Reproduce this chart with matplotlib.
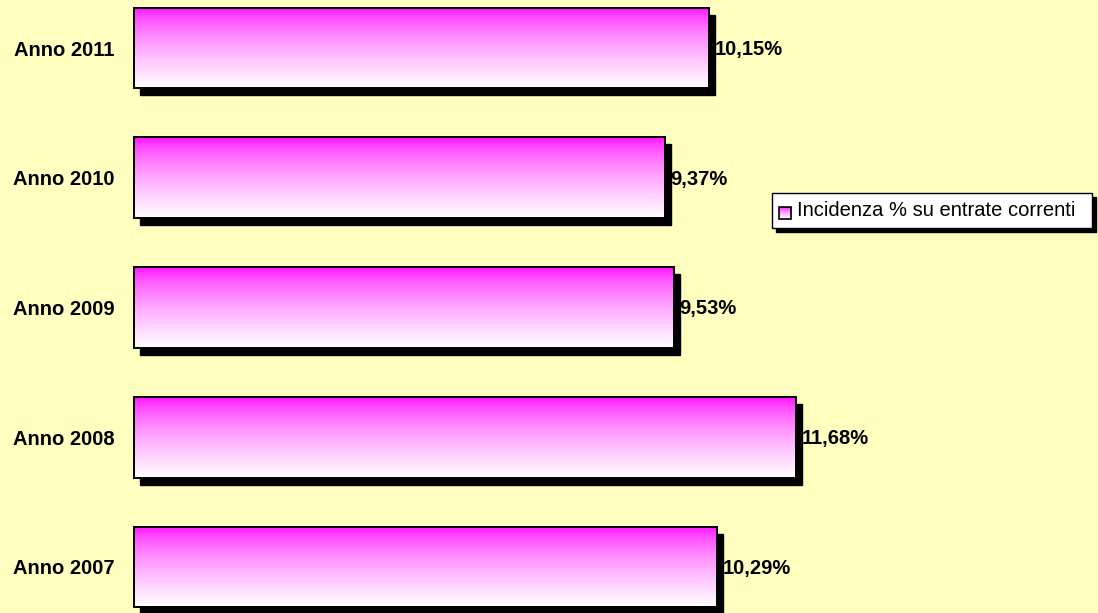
import numpy as np
import matplotlib
matplotlib.use("Agg")
import matplotlib.pyplot as plt
from matplotlib.patches import Rectangle
from matplotlib.transforms import ScaledTranslation

# data (bottom to top as drawn)
years = ['Anno 2007', 'Anno 2008', 'Anno 2009', 'Anno 2010', 'Anno 2011']
incidenza = [10.29, 11.68, 9.53, 9.37, 10.15]
value_labels = ['10,29%', '11,68%', '9,53%', '9,37%', '10,15%']
legend_label = 'Incidenza % su entrate correnti'

bg = '#FFFFC0'
plt.rcParams['font.family'] = ['Liberation Sans', 'DejaVu Sans']

fig = plt.figure(figsize=(10.98, 6.13), dpi=100, facecolor=bg)
W, H = 1098, 613
ax = fig.add_axes([134 / W, 0, 850 / W, 1])
ax.set_facecolor(bg)

# vertical gradient magenta -> white
n = 256
t = np.linspace(0, 1, n) ** 0.6
grad = np.zeros((n, 1, 3))
grad[:, 0, 0] = 1.0
grad[:, 0, 1] = t
grad[:, 0, 2] = 1.0

bar_h = 0.623
shadow = ax.transData + ScaledTranslation(6 / 100, -7 / 100, fig.dpi_scale_trans)
for i, v in enumerate(incidenza):
    y0 = i - bar_h / 2
    ax.add_patch(Rectangle((0, y0), v, bar_h, facecolor='black',
                           edgecolor='black', transform=shadow, zorder=1))
    ax.imshow(grad, extent=[0, v, y0, y0 + bar_h], aspect='auto',
              origin='upper', zorder=2, interpolation='bilinear')
    ax.add_patch(Rectangle((0, y0), v, bar_h, facecolor='none', clip_on=False,
                           edgecolor='black', linewidth=1.4, zorder=3))
    ax.annotate(value_labels[i], xy=(v, i), xytext=(4, -1),
                textcoords='offset points', va='center', ha='left',
                fontsize=14.5, fontweight='bold', zorder=4)

ax.set_xlim(0, 15)
ax.set_ylim(-(613 - 567) / 129.75, 4 + 48 / 129.75)
ax.set_yticks(range(len(years)))
ax.set_yticklabels(years, fontsize=14.5, fontweight='bold')
ax.tick_params(axis='y', length=0, pad=14)
ax.set_xticks([])
for s in ax.spines.values():
    s.set_visible(False)

# legend box drawn in figure pixels
def fx(px):
    return px / W

def fy(py):
    return 1 - py / H

lx0, ly0, lx1, ly1 = 772, 193, 1092, 228
fig.add_artist(Rectangle((fx(lx0 + 4), fy(ly1 + 4)), fx(lx1 - lx0), (ly1 - ly0) / H,
                         transform=fig.transFigure, facecolor='black',
                         edgecolor='black', zorder=5))
fig.add_artist(Rectangle((fx(lx0), fy(ly1)), fx(lx1 - lx0), (ly1 - ly0) / H,
                         transform=fig.transFigure, facecolor='white', edgecolor='black',
                         linewidth=1, zorder=6))
leg_ax = fig.add_axes([fx(779), fy(219), fx(12), 12 / H], zorder=7)
leg_ax.imshow(grad, aspect='auto', origin='upper', extent=[0, 1, 0, 1])
leg_ax.add_patch(Rectangle((0, 0), 1, 1, facecolor='none', edgecolor='black',
                           linewidth=1.2, clip_on=False))
leg_ax.set_axis_off()
fig.text(fx(797), fy(211), legend_label, fontsize=14.5, va='center', ha='left',
         zorder=8)

fig.savefig('out.png', dpi=100, facecolor=bg)
